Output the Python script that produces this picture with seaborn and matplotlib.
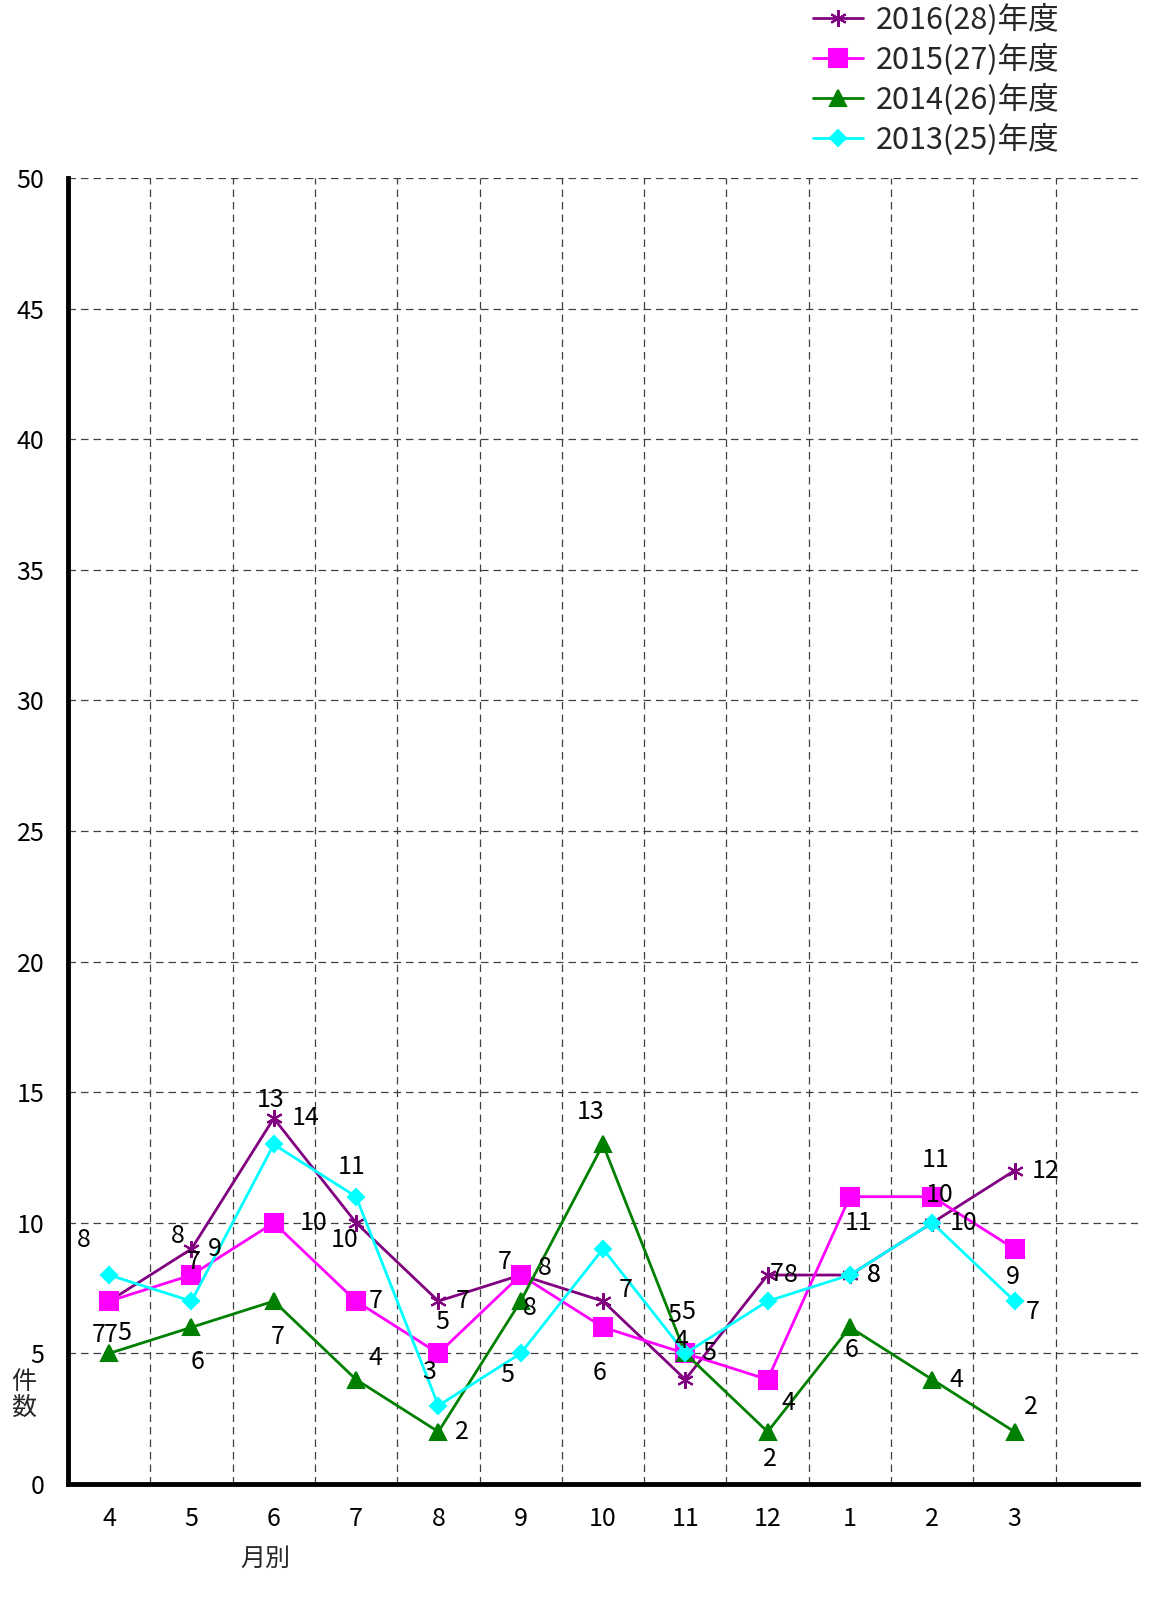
import matplotlib

matplotlib.use("Agg")

import matplotlib.pyplot as plt
import numpy as np
import seaborn as sns
from matplotlib.ticker import FixedLocator, MultipleLocator

# data
months = ["4", "5", "6", "7", "8", "9", "10", "11", "12", "1", "2", "3"]
series_names = ["2016(28)年度", "2015(27)年度", "2014(26)年度", "2013(25)年度"]
vals_2016 = [7, 9, 14, 10, 7, 8, 7, 4, 8, 8, 10, 12]
vals_2015 = [7, 8, 10, 7, 5, 8, 6, 5, 4, 11, 11, 9]
vals_2014 = [5, 6, 7, 4, 2, 7, 13, 5, 2, 6, 4, 2]
vals_2013 = [8, 7, 13, 11, 3, 5, 9, 5, 7, 8, 10, 7]

# label offsets (pixels) for the value labels, None = label hidden
off_2016 = [(-10, -34), (23, 0), (32, 0), (-11, -17), (24, 0), (24, 7),
            (23, 11), (-4, 39), (23, 0), (24, 0), (7, 28), (31, 0)]
off_2015 = [(2, -34), (-14, 39), (40, 0), (20, 0), (4, 31), (9, -33),
            (-3, -46), (-11, 38), (21, -23), (9, -26), (3, 37), (-2, -28)]
off_2014 = [(15, 20), (6, -35), (4, -36), (19, 22), (24, 0), (-16, 39),
            (-12, 32), (3, 41), (2, -27), (2, -23), (24, 0), (16, 25)]
off_2013 = [(-25, 35), (2, 39), (-3, 44), (-4, 30), (-9, 34), (-13, -22),
            None, (24, 0), (9, 27), (24, 0), (31, 0), (18, -11)]

FONT = ["Noto Sans CJK JP", "DejaVu Sans"]

sns.set_theme(style="white")
plt.rcParams["font.family"] = FONT

fig = plt.figure(figsize=(11.7, 16.12), dpi=100)
ax = fig.add_axes([68 / 1170, 1 - 1484 / 1612, 1070 / 1170, 1306 / 1612])

x = np.arange(len(months))
styles = [
    (vals_2016, off_2016, "#800080", (6, 2, 0), 12),
    (vals_2015, off_2015, "#FF00FF", "s", 13),
    (vals_2014, off_2014, "#008000", "^", 12),
    (vals_2013, off_2013, "#00FFFF", "D", 8),
]

for name, (vals, offs, color, marker, ms) in zip(series_names, styles):
    sns.lineplot(x=x, y=vals, ax=ax, color=color, marker=marker, markersize=ms,
                 markeredgecolor=color, markeredgewidth=1.5, linewidth=2,
                 label=name)
    for xi, v, off in zip(x, vals, offs):
        if off is None:
            continue
        ax.annotate(str(v), (xi, v), xytext=off, textcoords="offset pixels",
                    ha="center", va="center", fontsize=18, color="black")

handles, labels = ax.get_legend_handles_labels()
ax.get_legend().remove()
fig.legend(handles, labels, loc="upper left", bbox_to_anchor=(813 / 1170, 1 - 4 / 1612),
           frameon=False, fontsize=22, handlelength=1.65, handletextpad=0.4,
           labelspacing=0.26, borderpad=0, borderaxespad=0)

ax.set_xlim(-0.5, len(months) + 0.5)
ax.set_ylim(0, 50)
ax.set_xticks(x)
ax.set_xticklabels(months)
ax.xaxis.set_minor_locator(FixedLocator(x + 0.5))
ax.yaxis.set_major_locator(MultipleLocator(5))
ax.tick_params(axis="both", which="both", length=0, labelsize=18, colors="black")
ax.tick_params(axis="y", pad=17)
ax.tick_params(axis="x", pad=16)

ax.grid(False)
ax.grid(True, axis="y", which="major", linestyle=(0, (6, 4)), color="#404040", linewidth=0.9)
ax.grid(True, axis="x", which="minor", linestyle=(0, (6, 4)), color="#404040", linewidth=0.9)
ax.set_axisbelow(True)

for side in ["top", "right"]:
    ax.spines[side].set_visible(False)
for side in ["left", "bottom"]:
    ax.spines[side].set_linewidth(3.5)
    ax.spines[side].set_color("black")

ax.set_ylabel("件\n数", rotation=0, fontsize=18, linespacing=1.0, ha="center", va="center")
ax.yaxis.set_label_coords(-0.041, 0.068)
ax.set_xlabel("月別", fontsize=18)
ax.xaxis.set_label_coords(0.184, -0.047)

fig.savefig("out.png", dpi=100)
